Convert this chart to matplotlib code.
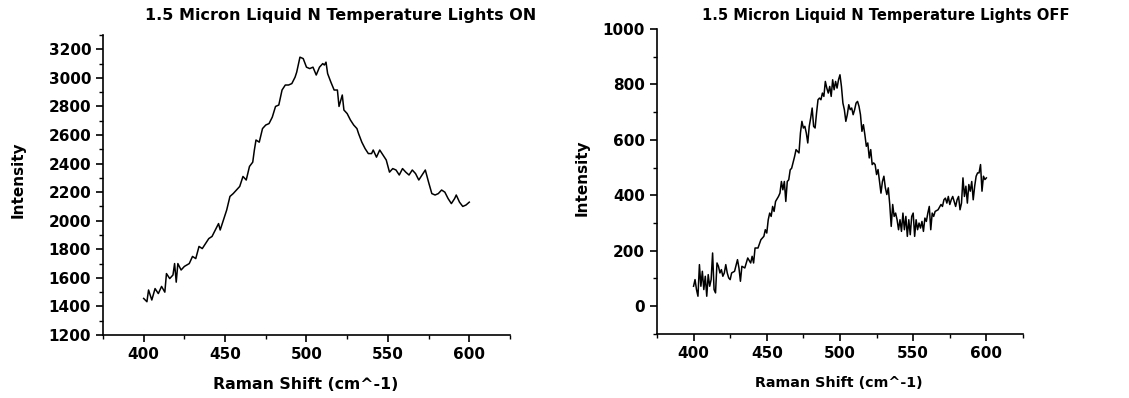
import numpy as np
import matplotlib
matplotlib.use('Agg')
import matplotlib.pyplot as plt
from matplotlib.ticker import MultipleLocator

# Lights ON spectrum
shift_on = [400, 402, 403, 405, 407, 409, 411, 413, 414, 416, 418, 419, 420, 421, 423, 425,
            428, 430, 432, 434, 436, 438, 440, 442, 444, 446, 447, 449, 451, 453, 455, 457,
            459, 461, 463, 465, 467, 468, 469, 471, 473, 475, 477, 479, 481, 483, 485, 487,
            489, 491, 493, 494, 496, 498, 500, 502, 504, 506, 508, 510, 511, 512, 513, 515,
            517, 519, 520, 522, 523, 525, 527, 529, 531, 532, 534, 536, 538, 540, 541, 543,
            545, 547, 549, 551, 553, 555, 557, 559, 561, 563, 565, 567, 569, 571, 573, 575,
            577, 579, 581, 583, 585, 587, 589, 591, 592, 594, 596, 598, 600]
intensity_on = [1456, 1433, 1515, 1445, 1525, 1490, 1540, 1500, 1630, 1595, 1620, 1700, 1570, 1700, 1655, 1680,
                1700, 1750, 1735, 1820, 1805, 1840, 1875, 1890, 1935, 1980, 1935, 2005, 2075, 2170, 2190, 2215,
                2240, 2310, 2285, 2380, 2410, 2495, 2565, 2550, 2645, 2670, 2680, 2725, 2800, 2810, 2915, 2950,
                2950, 2960, 3005, 3040, 3145, 3135, 3075, 3065, 3075, 3020, 3075, 3100, 3090, 3110, 3030, 2970,
                2915, 2915, 2800, 2880, 2775, 2750, 2705, 2670, 2645, 2610, 2550, 2505, 2470, 2470, 2495, 2445,
                2495, 2460, 2425, 2340, 2365, 2355, 2320, 2365, 2340, 2320, 2355, 2330, 2285, 2320, 2355, 2270,
                2190, 2180, 2190, 2215, 2200, 2155, 2120, 2155, 2180, 2130, 2100, 2110, 2130]

# Lights OFF spectrum
shift_off = [400, 401, 402, 403, 404, 405, 406, 407, 408, 409, 410, 411, 412, 413, 414, 415,
             416, 417, 418, 419, 420, 421, 422, 423, 424, 425, 426, 428, 430, 431, 432, 433,
             435, 437, 439, 440, 441, 442, 444, 446, 448, 449, 450, 451, 452, 453, 454, 455,
             456, 458, 459, 460, 461, 462, 463, 464, 465, 466, 467, 469, 470, 472, 473, 474,
             475, 476, 477, 478, 479, 480, 481, 482, 483, 484, 485, 486, 487, 488, 489, 490,
             491, 492, 493, 494, 495, 496, 497, 498, 499, 500, 501, 502, 503, 504, 505, 506,
             507, 508, 509, 510, 511, 512, 513, 514, 515, 516, 517, 518, 519, 520, 521, 522,
             523, 524, 525, 526, 527, 528, 529, 530, 531, 532, 533, 534, 535, 536, 537, 538,
             539, 540, 541, 542, 543, 544, 545, 546, 547, 548, 549, 550, 551, 552, 553, 554,
             555, 556, 557, 558, 559, 560, 561, 562, 563, 564, 565, 567, 569, 570, 571, 572,
             573, 574, 575, 576, 577, 578, 579, 580, 581, 582, 583, 584, 585, 586, 587, 588,
             589, 590, 591, 592, 593, 594, 595, 596, 597, 598, 599, 600]
intensity_off = [72, 96, 60, 36, 150, 72, 126, 60, 108, 36, 114, 72, 96, 192, 60, 48,
                 156, 144, 120, 132, 108, 120, 150, 120, 102, 96, 120, 126, 168, 138, 90, 144,
                 138, 174, 156, 180, 156, 210, 210, 240, 252, 276, 264, 312, 336, 324, 360, 342,
                 378, 396, 408, 450, 420, 450, 378, 450, 456, 492, 498, 540, 565, 553, 625, 667,
                 643, 649, 625, 589, 649, 679, 715, 649, 643, 697, 745, 751, 745, 769, 757, 811,
                 787, 769, 793, 757, 817, 781, 811, 787, 817, 835, 793, 733, 709, 667, 691, 727,
                 709, 715, 691, 709, 733, 739, 721, 691, 631, 655, 619, 577, 589, 535, 565, 511,
                 517, 511, 475, 493, 450, 408, 450, 469, 427, 403, 427, 367, 288, 367, 324, 336,
                 312, 276, 312, 270, 336, 276, 324, 252, 312, 258, 324, 336, 252, 312, 276, 300,
                 282, 306, 270, 318, 306, 336, 360, 276, 336, 324, 342, 348, 367, 360, 384, 390,
                 372, 396, 367, 384, 396, 378, 360, 384, 396, 348, 372, 463, 396, 433, 372, 439,
                 415, 450, 384, 433, 469, 481, 481, 511, 415, 469, 457, 463]

titles = ['1.5 Micron Liquid N Temperature Lights ON',
          '1.5 Micron Liquid N Temperature Lights OFF']

plt.rcParams['font.family'] = 'DejaVu Sans'
plt.rcParams['font.weight'] = 'bold'

fig = plt.figure(figsize=(11.29, 3.98), dpi=100)
ax1 = fig.add_axes([0.0912, 0.1583, 0.3605, 0.7537])
ax2 = fig.add_axes([0.5819, 0.161, 0.3242, 0.766])

ax1.plot(shift_on, intensity_on, color='black', lw=1.1)
ax2.plot(shift_off, intensity_off, color='black', lw=1.1)

ax1.set_ylim(1200, 3300)
ax1.yaxis.set_major_locator(MultipleLocator(200))
ax2.set_ylim(-100, 1000)
ax2.yaxis.set_major_locator(MultipleLocator(200))

for ax in (ax1, ax2):
    ax.set_xlim(375, 625)
    ax.xaxis.set_major_locator(MultipleLocator(50))
    ax.xaxis.set_minor_locator(MultipleLocator(25))
    ax.yaxis.set_minor_locator(MultipleLocator(100))
    for s in ('top', 'right'):
        ax.spines[s].set_visible(False)
    for s in ('left', 'bottom'):
        ax.spines[s].set_linewidth(1.2)
    ax.tick_params(which='major', length=5, width=1.2, labelsize=11)
    ax.tick_params(which='minor', length=3, width=1.0)
    for lab in ax.get_xticklabels() + ax.get_yticklabels():
        lab.set_fontweight('bold')

fig.text(0.302, 0.962, titles[0], ha='center', va='center', fontsize=11.5, fontweight='bold')
fig.text(0.785, 0.962, titles[1], ha='center', va='center', fontsize=10.6, fontweight='bold')

fig.text(0.271, 0.035, 'Raman Shift (cm^-1)', ha='center', va='center', fontsize=11.3, fontweight='bold')
fig.text(0.743, 0.037, 'Raman Shift (cm^-1)', ha='center', va='center', fontsize=10.3, fontweight='bold')
fig.text(0.016, 0.548, 'Intensity', rotation=90, ha='center', va='center', fontsize=11, fontweight='bold')
fig.text(0.516, 0.553, 'Intensity', rotation=90, ha='center', va='center', fontsize=11, fontweight='bold')

fig.savefig('out.png', dpi=100)
